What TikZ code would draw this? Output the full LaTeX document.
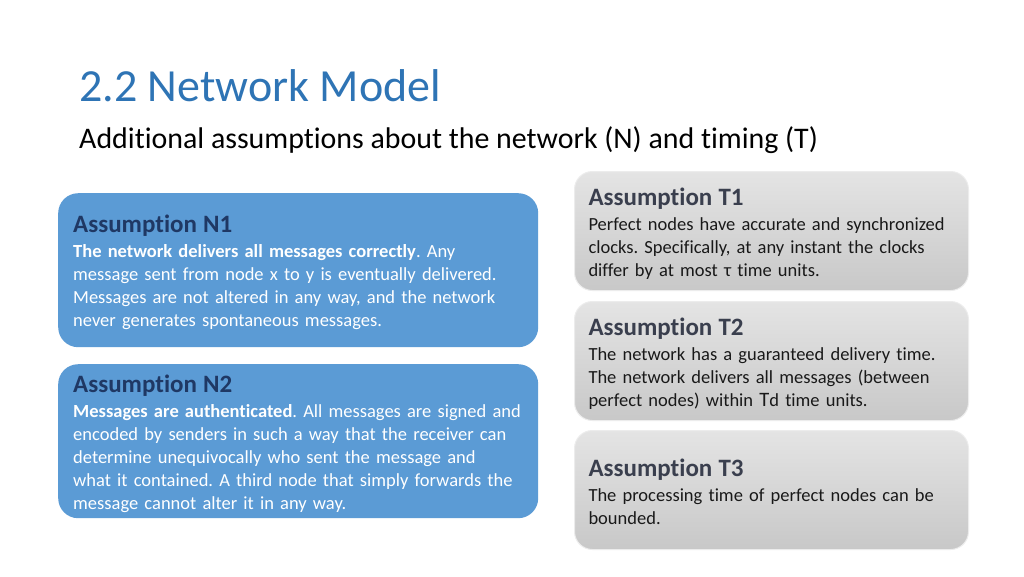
\documentclass[tikz,border=0pt]{standalone}
\usepackage{fontspec}
\setmainfont[Ligatures=NoCommon]{Carlito}
\usetikzlibrary{positioning}

\definecolor{titleblue}{HTML}{2E74B5}
\definecolor{nblue}{HTML}{5B9BD5}
\definecolor{nhead}{HTML}{1F3864}
\definecolor{thead}{HTML}{3A3F4E}
\definecolor{ttop}{HTML}{E4E4E4}
\definecolor{tbot}{HTML}{C8C8C8}

\tikzset{
  nbox/.style={rectangle, rounded corners=20pt, fill=nblue, text=white,
    anchor=north west, minimum width=480pt, minimum height=154pt,
    text width=450pt, inner xsep=15pt, align=left,
    font=\frenchspacing\fontsize{18.5}{23}\selectfont},
  tbox/.style={rectangle, rounded corners=18pt, top color=ttop, bottom color=tbot,
    draw=white!85!gray, line width=1pt, text=black!90,
    anchor=north west, minimum width=394pt, minimum height=119pt,
    text width=366pt, inner xsep=14pt, align=left,
    font=\frenchspacing\fontsize{18.5}{23}\selectfont}
}
\newcommand{\nhd}[1]{{\rule{0pt}{22pt}\color{nhead}\fontsize{25}{23}\selectfont\bfseries #1}\\[2pt]}
\newcommand{\thd}[1]{{\rule{0pt}{22pt}\color{thead}\fontsize{25}{23}\selectfont\bfseries #1}\\[2pt]}

\begin{document}
\begin{tikzpicture}[x=1pt,y=-1pt]
	\useasboundingbox[fill=white] (0,0) rectangle (1024,576);

	\node[anchor=base west, inner sep=0, text=titleblue,
	      font=\fontsize{46}{56}\selectfont] (title) at (79,101) {2.2 Network Model};
	\node[anchor=base west, inner sep=0,
	      font=\fontsize{29.9}{34}\selectfont] (subtitle) at (79,148)
	      {Additional assumptions about the network (N) and timing (T)};

	% network assumptions
	\node[nbox] (n_1) at (58,193) {\nhd{Assumption N1}%
	  \textbf{The network delivers all messages correctly}. Any\\
	  message sent from node x to y is eventually delivered.\\
	  Messages are not altered in any way, and the network\\
	  never generates spontaneous messages.};
	\node[nbox] (n_2) at (58,364) {\nhd{Assumption N2}%
	  \textbf{Messages are authenticated}. All messages are signed and\\
	  encoded by senders in such a way that the receiver can\\
	  determine unequivocally who sent the message and\\
	  what it contained. A third node that simply forwards the\\
	  message cannot alter it in any way.};

	% timing assumptions
	\node[tbox] (t_1) at (574,171) {\thd{Assumption T1}%
	  Perfect nodes have accurate and synchronized\\
	  clocks. Specifically, at any instant the clocks\\
	  differ by at most τ time units.};
	\node[tbox] (t_2) at (574,301) {\thd{Assumption T2}%
	  The network has a guaranteed delivery time.\\
	  The network delivers all messages (between\\
	  perfect nodes) within {\fontsize{20.5}{23}\selectfont T}d time units.};
	\node[tbox] (t_3) at (574,430) {\thd{Assumption T3}%
	  The processing time of perfect nodes can be\\
	  bounded.};
\end{tikzpicture}
\end{document}
